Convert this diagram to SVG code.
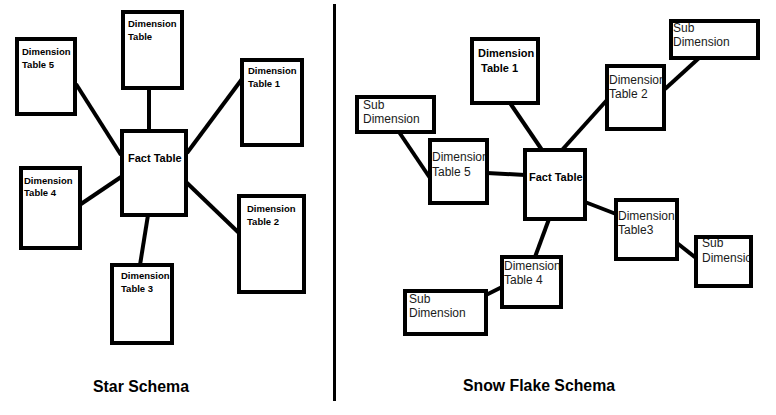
<svg xmlns="http://www.w3.org/2000/svg" width="776" height="415" viewBox="0 0 776 415">
<style>
.box{fill:#fff;stroke:#000;stroke-width:4}
.ln{stroke:#000;stroke-width:4;fill:none}
.lb{font-family:"Liberation Sans",Arial,sans-serif;font-weight:bold;font-size:9.5px;fill:#000}
.rb{font-family:"Liberation Sans",Arial,sans-serif;font-weight:bold;font-size:11px;fill:#000}
.rr{font-family:"Liberation Sans",Arial,sans-serif;font-size:12px;fill:#1a1a1a}
.title{font-family:"Liberation Sans",Arial,sans-serif;font-weight:bold;font-size:16px;fill:#000}
</style>
<defs>
<clipPath id="c-dt2"><rect x="609" y="68" width="53" height="59"/></clipPath>
<clipPath id="c-dt5"><rect x="432" y="142" width="53" height="59"/></clipPath>
<clipPath id="c-dt3"><rect x="618" y="202" width="57" height="55"/></clipPath>
<clipPath id="c-subR"><rect x="698" y="239" width="51" height="45"/></clipPath>
<clipPath id="c-dt4"><rect x="504" y="259" width="55" height="46"/></clipPath>
</defs>
<rect width="776" height="415" fill="#fff"/>
<line x1="334.5" y1="4" x2="334.5" y2="401" stroke="#000" stroke-width="3"/>
<g id="connectors">
<line class="ln" x1="149" y1="88" x2="149" y2="131"/>
<line class="ln" x1="76" y1="84" x2="121" y2="155"/>
<line class="ln" x1="242" y1="79" x2="187" y2="153"/>
<line class="ln" x1="81" y1="204" x2="121" y2="177"/>
<line class="ln" x1="186" y1="182" x2="239" y2="233"/>
<line class="ln" x1="148" y1="215" x2="140" y2="265"/>
<line class="ln" x1="510" y1="103" x2="542" y2="150"/>
<line class="ln" x1="607" y1="100" x2="562" y2="150"/>
<line class="ln" x1="699" y1="58" x2="665" y2="89"/>
<line class="ln" x1="399" y1="132" x2="430" y2="178"/>
<line class="ln" x1="487" y1="173" x2="525" y2="175"/>
<line class="ln" x1="585" y1="202" x2="616" y2="214"/>
<line class="ln" x1="677" y1="243" x2="696" y2="258"/>
<line class="ln" x1="549" y1="219" x2="535" y2="257"/>
<line class="ln" x1="504" y1="286" x2="486" y2="295"/>
</g>
<g id="star-dim-top">
<rect class="box" x="123" y="12" width="59" height="76"/>
<text class="lb" x="128" y="27">Dimension</text>
<text class="lb" x="128" y="40">Table</text>
</g>
<g id="star-dim5">
<rect class="box" x="17" y="39" width="58" height="75"/>
<text class="lb" x="22" y="55">Dimension</text>
<text class="lb" x="22" y="68">Table 5</text>
</g>
<g id="star-dim1">
<rect class="box" x="242" y="60" width="60" height="85"/>
<text class="lb" x="248" y="74">Dimension</text>
<text class="lb" x="248" y="87">Table 1</text>
</g>
<g id="star-fact">
<rect class="box" x="122" y="131" width="64" height="84"/>
<text class="rb" x="128" y="162">Fact Table</text>
</g>
<g id="star-dim4">
<rect class="box" x="21" y="168" width="59" height="80"/>
<text class="lb" x="24" y="184">Dimension</text>
<text class="lb" x="24" y="196">Table 4</text>
</g>
<g id="star-dim2">
<rect class="box" x="239" y="196" width="65" height="96"/>
<text class="lb" x="247" y="212">Dimension</text>
<text class="lb" x="247" y="225">Table 2</text>
</g>
<g id="star-dim3">
<rect class="box" x="112" y="265" width="60" height="78"/>
<text class="lb" x="121" y="279">Dimension</text>
<text class="lb" x="121" y="292">Table 3</text>
</g>
<text class="title" x="93" y="392" textLength="96" lengthAdjust="spacingAndGlyphs">Star Schema</text>
<g id="snow-dim1">
<rect class="box" x="472" y="39" width="66" height="64"/>
<text class="rb" x="478" y="57">Dimension</text>
<text class="rb" x="481" y="72">Table 1</text>
</g>
<g id="snow-sub-tr">
<rect class="box" x="671" y="21" width="87" height="37"/>
<text class="rr" x="673" y="32">Sub</text>
<text class="rr" x="673" y="46">Dimension</text>
</g>
<g id="snow-dim2">
<rect class="box" x="607" y="66" width="57" height="63"/>
<g clip-path="url(#c-dt2)">
<text class="rr" x="609" y="84">Dimension</text>
<text class="rr" x="609" y="98">Table 2</text>
</g>
</g>
<g id="snow-sub-l">
<rect class="box" x="357" y="97" width="77" height="35"/>
<text class="rr" x="363" y="109">Sub</text>
<text class="rr" x="363" y="123">Dimension</text>
</g>
<g id="snow-dim5">
<rect class="box" x="430" y="140" width="57" height="63"/>
<g clip-path="url(#c-dt5)">
<text class="rr" x="432" y="161">Dimension</text>
<text class="rr" x="432" y="176">Table 5</text>
</g>
</g>
<g id="snow-fact">
<rect class="box" x="525" y="150" width="60" height="69"/>
<text class="rb" x="529" y="181">Fact Table</text>
</g>
<g id="snow-dim3">
<rect class="box" x="616" y="200" width="61" height="59"/>
<g clip-path="url(#c-dt3)">
<text class="rr" x="618" y="220">Dimension</text>
<text class="rr" x="618" y="234">Table3</text>
</g>
</g>
<g id="snow-sub-r">
<rect class="box" x="696" y="237" width="55" height="49"/>
<g clip-path="url(#c-subR)">
<text class="rr" x="702" y="247">Sub</text>
<text class="rr" x="702" y="262">Dimension</text>
</g>
</g>
<g id="snow-dim4">
<rect class="box" x="502" y="257" width="59" height="50"/>
<g clip-path="url(#c-dt4)">
<text class="rr" x="504" y="270">Dimension</text>
<text class="rr" x="504" y="284">Table 4</text>
</g>
</g>
<g id="snow-sub-bl">
<rect class="box" x="405" y="291" width="81" height="43"/>
<text class="rr" x="409" y="303">Sub</text>
<text class="rr" x="409" y="317">Dimension</text>
</g>
<text class="title" x="463" y="391" textLength="152" lengthAdjust="spacingAndGlyphs">Snow Flake Schema</text>
</svg>
